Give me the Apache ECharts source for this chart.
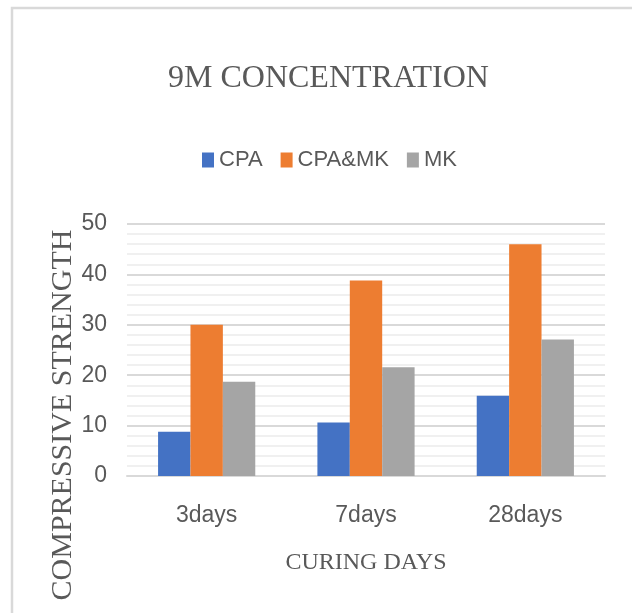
<!DOCTYPE html>
<html>
<head>
<meta charset="utf-8">
<script src="https://cdn.jsdelivr.net/npm/echarts@6/dist/echarts.min.js"></script>
<style>html,body{margin:0;padding:0;background:#fff;}#c{width:632px;height:613px;}</style>
</head>
<body>
<div id="c"></div>
<script>
const categories = ['3days', '7days', '28days'];
const seriesNames = ['CPA', 'CPA&MK', 'MK'];
const cpa = [8.8, 10.6, 15.9];
const cpaMk = [30.0, 38.8, 46.0];
const mk = [18.7, 21.6, 27.1];
const yTicks = [0, 10, 20, 30, 40, 50];

const narrow = "'Liberation Sans Narrow', 'Liberation Sans', sans-serif";
const serif = "'Liberation Serif', serif";
const colors = ['#4472C4', '#ED7D31', '#A5A5A5'];

const chart = echarts.init(document.getElementById('c'), null, {renderer: 'canvas'});
chart.setOption({
  animation: false,
  backgroundColor: '#fff',
  color: colors,
  graphic: [{
    type: 'rect', shape: {x: 12, y: 8, width: 640, height: 640}, silent: true,
    style: {fill: 'none', stroke: '#d9d9d9', lineWidth: 2.5}
  }],
  title: {
    text: '9M CONCENTRATION', left: 163, top: 58,
    textStyle: {fontFamily: serif, fontSize: 32, fontWeight: 'normal', color: '#595959'}
  },
  legend: {
    top: 144, left: 197, itemGap: 18, itemWidth: 12, itemHeight: 15,
    icon: 'rect',
    textStyle: {fontFamily: narrow, fontSize: 22, color: '#595959'},
    data: seriesNames
  },
  grid: {left: 127, right: 27, top: 224, bottom: 137, containLabel: false},
  xAxis: {
    type: 'category', data: categories,
    name: 'CURING DAYS', nameLocation: 'middle', nameGap: 75, nameMoveOverlap: false,
    nameTextStyle: {fontFamily: serif, fontSize: 24, color: '#595959'},
    axisLine: {lineStyle: {color: '#d9d9d9', width: 2}},
    axisTick: {show: false},
    axisLabel: {fontFamily: narrow, fontSize: 23, color: '#595959', margin: 28}
  },
  yAxis: {
    type: 'value', min: yTicks[0], max: yTicks[yTicks.length - 1], interval: 10,
    name: 'COMPRESSIVE STRENGTH', nameLocation: 'middle', nameRotate: 90, nameGap: 49, nameMoveOverlap: false,
    nameTextStyle: {fontFamily: serif, fontSize: 30, color: '#595959', padding: [0, 130, 0, 0]},
    axisLine: {show: false}, axisTick: {show: false},
    axisLabel: {fontFamily: narrow, fontSize: 23, color: '#595959', margin: 20},
    splitLine: {lineStyle: {color: '#d9d9d9', width: 2}},
    minorTick: {show: false, splitNumber: 5},
    minorSplitLine: {show: true, lineStyle: {color: '#f0f0f0', width: 2}}
  },
  series: [
    {name: seriesNames[0], type: 'bar', data: cpa, barGap: '0%', barCategoryGap: '39%'},
    {name: seriesNames[1], type: 'bar', data: cpaMk, barGap: '0%', barCategoryGap: '39%'},
    {name: seriesNames[2], type: 'bar', data: mk, barGap: '0%', barCategoryGap: '39%'}
  ]
});
</script>
</body>
</html>
